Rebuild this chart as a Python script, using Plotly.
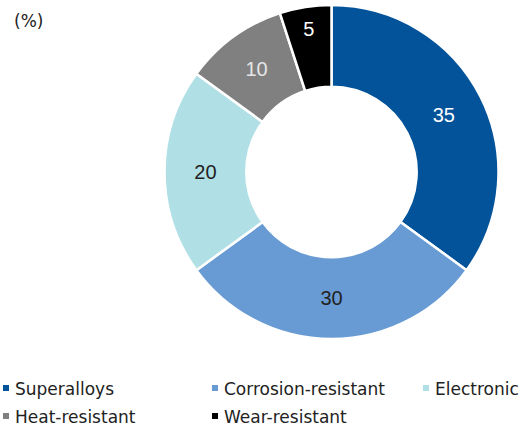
import plotly.graph_objects as go

labels = ["Superalloys", "Corrosion-resistant", "Electronic", "Heat-resistant", "Wear-resistant"]
values = [35, 30, 20, 10, 5]
colors = ["#02539A", "#689BD3", "#B0E0E6", "#808080", "#000000"]
text_colors = ["#FFFFFF", "#222222", "#222222", "#E6E6E6", "#FFFFFF"]

W, H = 526, 434
FONT = "Liberation Sans, Arial, sans-serif"
LFONT = "DejaVu Sans, sans-serif"

fig = go.Figure(go.Pie(
    labels=labels, values=values, sort=False, direction="clockwise", rotation=0,
    hole=0.51,
    marker=dict(colors=colors, line=dict(color="white", width=2.5)),
    textinfo="value", textposition="inside", insidetextorientation="horizontal",
    textfont=dict(family=FONT, size=20, color=text_colors),
    domain=dict(x=[164.5 / W, 498.5 / W], y=[1 - 339 / H, 1 - 5 / H]),
    showlegend=False,
))

annotations = [dict(text="(%)", x=12 / W, y=1 - 21 / H, xref="paper", yref="paper",
                    xanchor="left", yanchor="middle", showarrow=False,
                    font=dict(family=LFONT, size=17, color="#222"))]
shapes = []
col_marker_x = [3, 212, 423]
col_text_x = [13, 222, 433]
row_y = [389, 417]
for i, (lab, col) in enumerate(zip(labels, colors)):
    r, c = divmod(i, 3)
    mx, my = col_marker_x[c], row_y[r]
    shapes.append(dict(type="rect", xref="paper", yref="paper",
                       x0=mx / W, x1=(mx + 6) / W, y0=1 - (my + 2) / H, y1=1 - (my - 4) / H,
                       fillcolor=col, line=dict(width=0)))
    annotations.append(dict(text=lab, x=col_text_x[c] / W, y=1 - my / H, xref="paper", yref="paper",
                            xanchor="left", yanchor="middle", showarrow=False,
                            font=dict(family=LFONT, size=17, color="#222")))

fig.update_layout(width=W, height=H, margin=dict(l=0, r=0, t=0, b=0),
                  paper_bgcolor="white", plot_bgcolor="white",
                  annotations=annotations, shapes=shapes)
fig.write_html("out.html", config={"displayModeBar": False},
               post_script="document.body.style.margin='0';")
